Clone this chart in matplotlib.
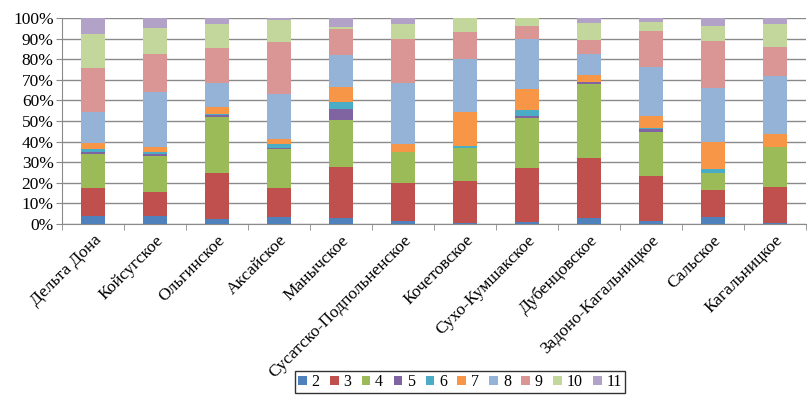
import matplotlib
matplotlib.use("Agg")
import matplotlib.pyplot as plt
import numpy as np

categories = ["Дельта Дона", "Койсугское", "Ольгинское", "Аксайское", "Манычское",
              "Сусатско-Подпольненское", "Кочетовское", "Сухо-Кумшакское", "Дубенцовское",
              "Задоно-Кагальницкое", "Сальское", "Кагальницкое"]
series_names = ["2", "3", "4", "5", "6", "7", "8", "9", "10", "11"]

s2 = [4.0, 4.0, 2.5, 3.5, 3.0, 1.5, 0.3, 1.0, 3.0, 1.5, 3.5, 0.3]
s3 = [13.5, 11.5, 22.5, 14.0, 24.5, 18.5, 20.7, 26.0, 29.0, 22.0, 13.0, 17.7]
s4 = [16.5, 17.5, 27.0, 19.0, 23.0, 15.0, 16.0, 24.5, 36.0, 21.0, 8.5, 19.5]
s5 = [1.0, 1.0, 1.0, 0.3, 5.5, 0.0, 0.0, 1.0, 1.0, 1.5, 0.0, 0.0]
s6 = [1.5, 1.0, 0.3, 2.2, 3.0, 0.0, 1.0, 3.0, 0.0, 0.5, 1.5, 0.0]
s7 = [3.0, 2.5, 3.7, 2.5, 7.5, 4.0, 16.5, 10.0, 3.5, 6.0, 13.5, 6.5]
s8 = [15.0, 26.5, 11.5, 21.5, 15.5, 29.5, 25.5, 24.5, 10.0, 23.5, 26.0, 28.0]
s9 = [21.0, 18.5, 17.0, 25.5, 12.5, 21.5, 13.0, 6.0, 7.0, 17.5, 23.0, 14.5]
s10 = [16.5, 12.5, 11.5, 10.5, 1.0, 7.0, 7.0, 4.0, 8.0, 4.5, 7.0, 11.0]
s11 = [8.0, 5.0, 3.0, 1.0, 4.5, 3.0, 0.0, 0.0, 2.5, 2.0, 4.0, 3.0]
series_values = [s2, s3, s4, s5, s6, s7, s8, s9, s10, s11]

colors = ["#4F81BD", "#C0504D", "#9BBB59", "#8064A2", "#4BACC6",
          "#F79646", "#95B3D7", "#D99694", "#C3D69B", "#B3A2C7"]

plt.rcParams['font.family'] = ['Liberation Serif', 'DejaVu Serif']

fig = plt.figure(figsize=(8.08, 3.98), dpi=100)
ax = fig.add_axes([62/808, 1-224/398, (806-62)/808, (224-18)/398])

data = np.array(series_values, dtype=float)
totals = data.sum(axis=0)
pct = data / totals * 100
x = np.arange(len(categories))
bottom = np.zeros(len(categories))
handles = []
for name, vals, c in zip(series_names, pct, colors):
    h = ax.bar(x, vals, 0.4, bottom=bottom, color=c, label=name, zorder=3, linewidth=0)
    handles.append(h)
    bottom += vals

ax.set_xlim(-0.5, len(categories) - 0.5)
ax.set_ylim(0, 100)
ax.set_yticks(np.arange(0, 101, 10))
ax.set_yticklabels([f"{v}%" for v in range(0, 101, 10)], fontsize=12.5)
ax.yaxis.grid(True, color="#8a8a8a", linewidth=1, zorder=0)
ax.set_axisbelow(True)

ax.set_xticks(x)
ax.set_xticklabels(categories, rotation=45, ha="right", rotation_mode="anchor", fontsize=12.5)
ax.set_xticks(np.arange(-0.5, len(categories)), minor=True)
ax.tick_params(axis="x", which="major", length=0, pad=6)
ax.tick_params(axis="x", which="minor", length=4, color="#8a8a8a")
ax.tick_params(axis="y", length=4, color="#8a8a8a", pad=2)

for s in ["top", "right"]:
    ax.spines[s].set_visible(False)
for s in ["left", "bottom"]:
    ax.spines[s].set_color("#8a8a8a")

leg = fig.legend(handles=handles, labels=series_names, loc="upper center",
                 bbox_to_anchor=(460/808, 1-371/398), ncol=10, fontsize=11.5,
                 frameon=True, fancybox=False, edgecolor="black",
                 handlelength=0.55, handleheight=0.55, handletextpad=0.3,
                 columnspacing=0.65, borderpad=0.2, borderaxespad=0)
leg.get_frame().set_linewidth(1)

fig.savefig("out.png", dpi=100)
